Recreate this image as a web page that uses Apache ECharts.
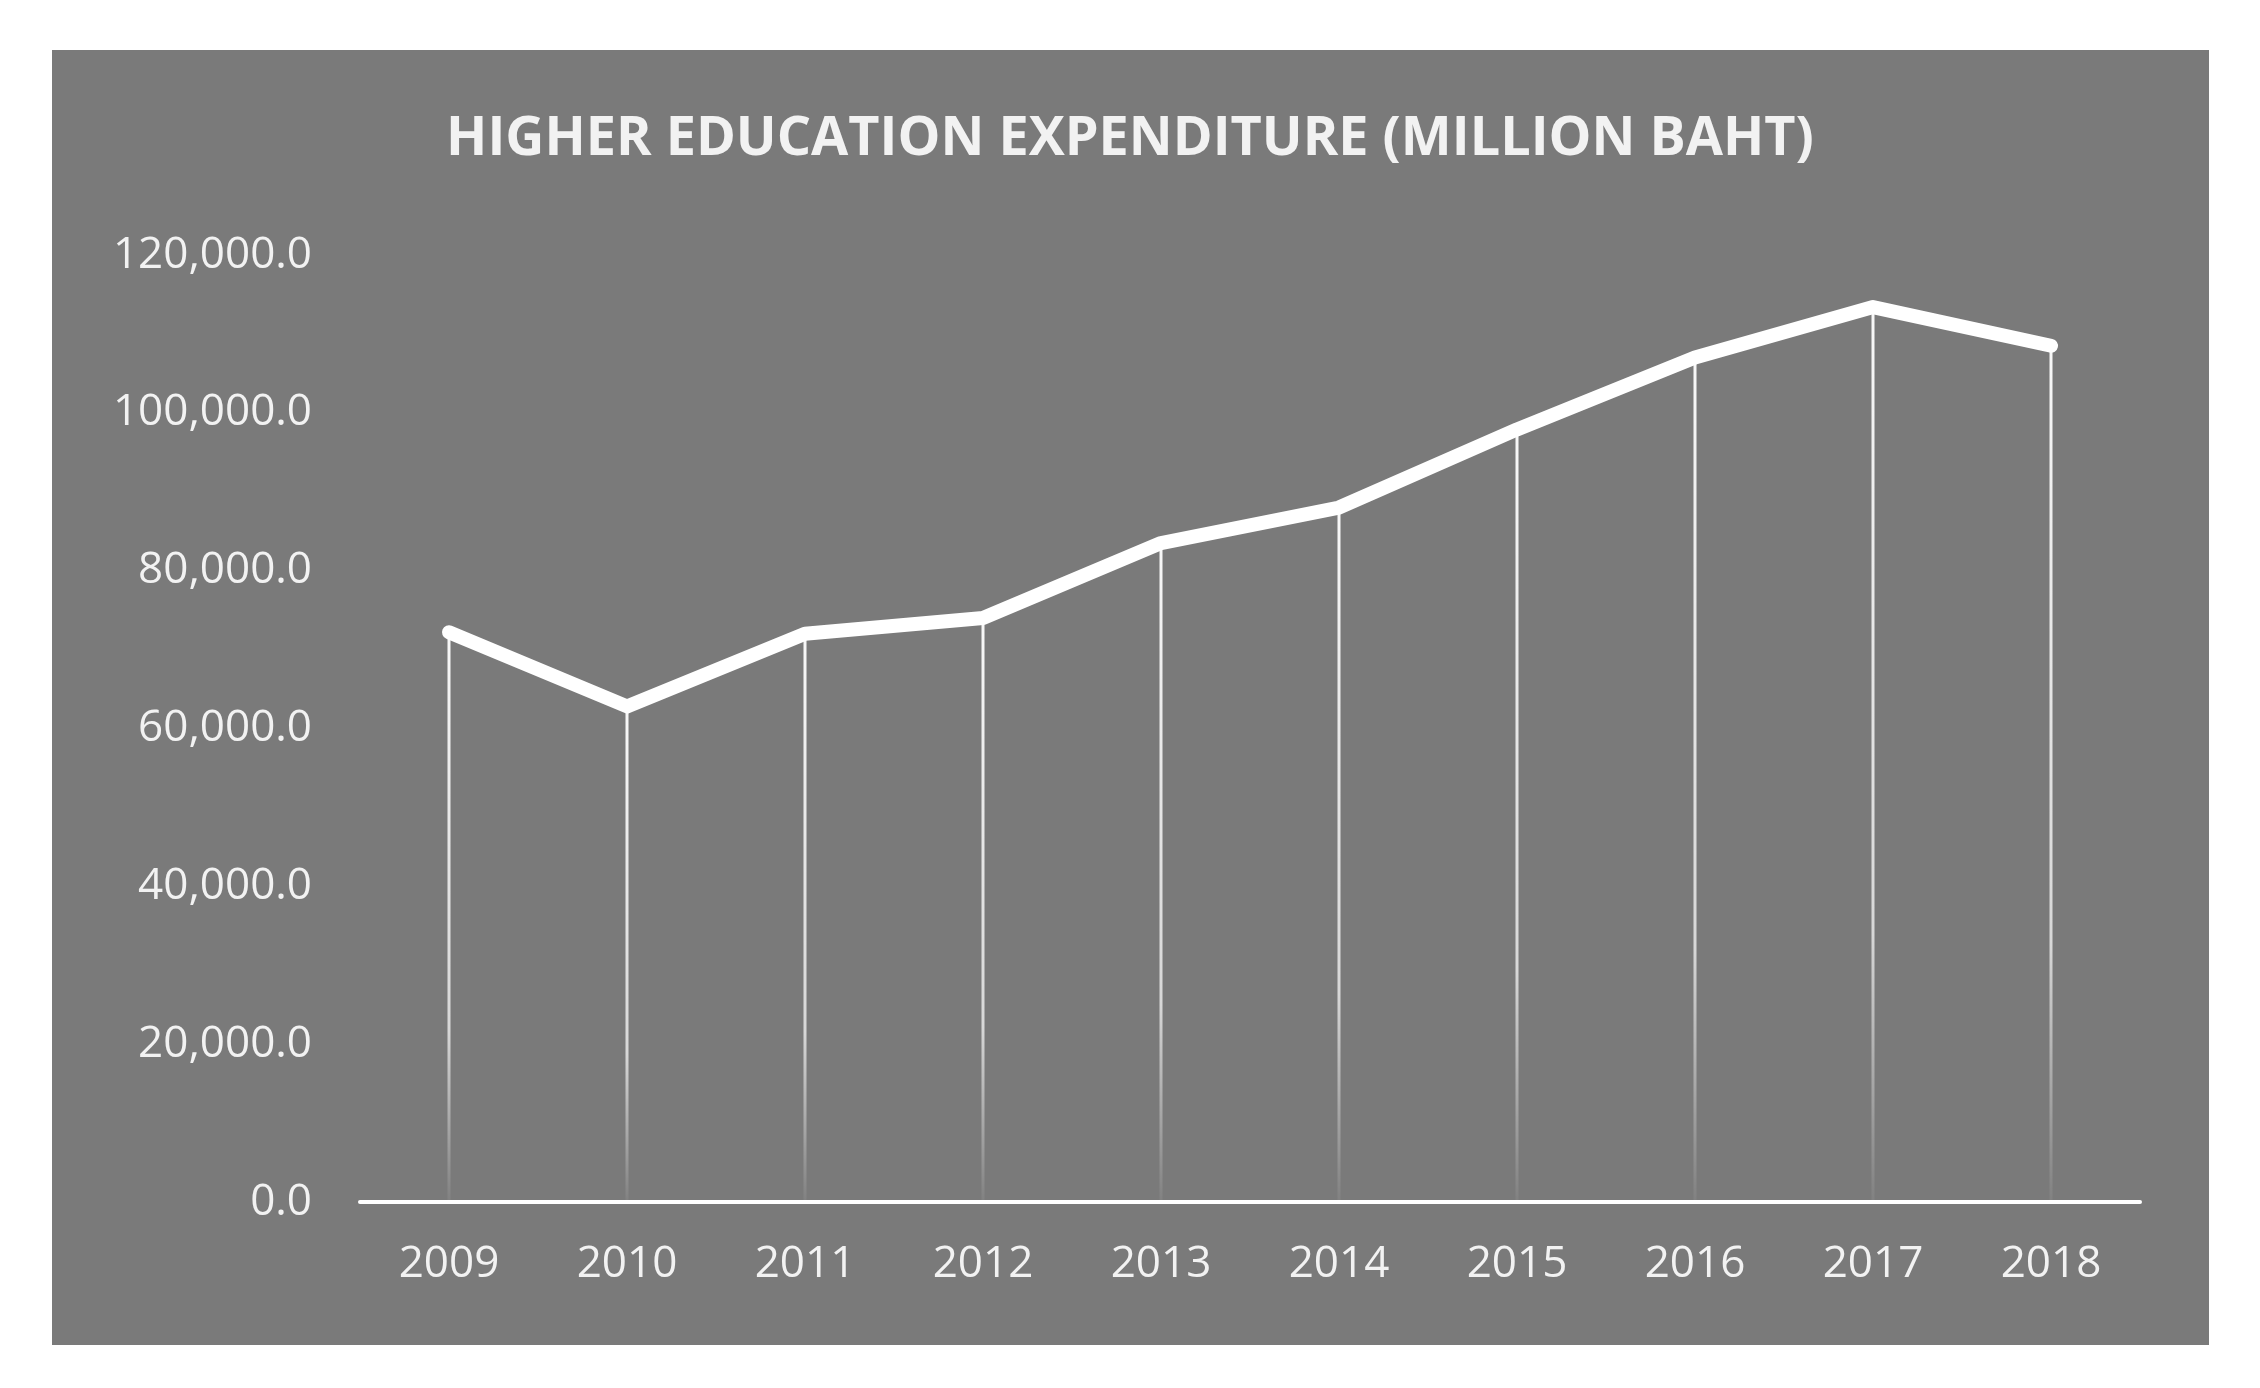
<!DOCTYPE html>
<html><head><meta charset="utf-8">
<script src="https://cdn.jsdelivr.net/npm/echarts@6/dist/echarts.min.js"></script>
<style>html,body{margin:0;background:#fff}#c{width:2260px;height:1388px}</style>
</head><body><div id="c"></div>
<script>
// values
const years = ['2009','2010','2011','2012','2013','2014','2015','2016','2017','2018'];
const expenditure = [72200, 62800, 72000, 74000, 83500, 88000, 97900, 107000, 113400, 108500];

const chart = echarts.init(document.getElementById('c'));
const font = '"Open Sans", sans-serif';
chart.setOption({
    backgroundColor: '#fff',
    graphic: [{
        type: 'rect', z: -10,
        shape: { x: 52, y: 50, width: 2157, height: 1295 },
        style: { fill: '#7a7a7a' }
    }],
    title: {
        text: 'HIGHER EDUCATION EXPENDITURE (MILLION BAHT)',
        left: 'center', top: 108,
        textStyle: { color: '#f2f2f2', fontFamily: font, fontSize: 54, fontWeight: 'bold', letterSpacing: 5 }
    },
    grid: { left: 360, right: 120, top: 255, bottom: 186 },
    xAxis: {
        type: 'category', data: years,
        axisLine: { lineStyle: { color: '#fff', width: 4 } },
        axisTick: { show: false },
        axisLabel: { color: '#f2f2f2', fontFamily: font, fontSize: 44, margin: 40, letterSpacing: 4 }
    },
    yAxis: {
        type: 'value', min: 0, max: 120000, interval: 20000,
        splitLine: { show: false },
        axisLabel: {
            color: '#f2f2f2', fontFamily: font, fontSize: 44, margin: 48,
            formatter: v => v.toLocaleString('en-US', { minimumFractionDigits: 1, maximumFractionDigits: 1 })
        }
    },
    series: [
        {
            type: 'bar', data: expenditure, barWidth: 3, silent: true,
            itemStyle: {
                color: new echarts.graphic.LinearGradient(0, 0, 0, 1, [
                    { offset: 0, color: 'rgba(255,255,255,0.95)' },
                    { offset: 0.7, color: 'rgba(255,255,255,0.7)' },
                    { offset: 1, color: 'rgba(255,255,255,0.05)' }
                ])
            }
        },
        {
            type: 'line', data: expenditure, symbol: 'none',
            lineStyle: { color: '#fff', width: 14, cap: 'round', join: 'round' }
        }
    ]
});
</script></body></html>
